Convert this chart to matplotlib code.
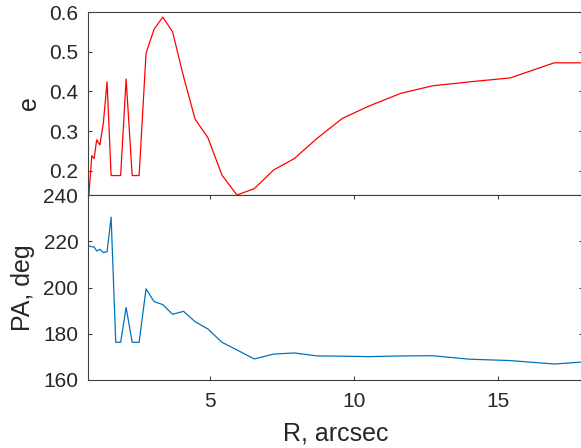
import matplotlib
matplotlib.use("Agg")
import matplotlib.pyplot as plt

# radius grid, arcsec
R = [0.79, 0.82, 0.92, 1.00, 1.09, 1.20, 1.32, 1.45, 1.59, 1.75, 1.92, 2.11,
     2.32, 2.56, 2.80, 3.08, 3.38, 3.72, 4.10, 4.50, 4.94, 5.43, 5.95, 6.55,
     7.22, 7.94, 8.73, 9.60, 10.52, 11.62, 12.72, 14.00, 15.42, 16.94, 17.94]

# ellipticity
e = [0.152, 0.139, 0.238, 0.231, 0.278, 0.265, 0.320, 0.424, 0.188, 0.188,
     0.188, 0.431, 0.188, 0.188, 0.496, 0.557, 0.587, 0.550, 0.437, 0.330,
     0.284, 0.189, 0.139, 0.155, 0.202, 0.231, 0.282, 0.332, 0.363, 0.395,
     0.414, 0.424, 0.434, 0.472, 0.472]

# position angle, deg
pa = [218.4, 218.0, 217.6, 217.6, 215.8, 216.5, 215.1, 215.5, 230.4, 176.3,
      176.3, 191.4, 176.3, 176.3, 199.4, 193.9, 192.6, 188.4, 189.7, 185.2,
      182.1, 176.3, 173.0, 169.1, 171.2, 171.7, 170.4, 170.3, 170.1, 170.4,
      170.5, 169.0, 168.4, 166.9, 167.8]

e_ticks = [0.2, 0.3, 0.4, 0.5, 0.6]
pa_ticks = [160, 180, 200, 220, 240]
r_ticks = [5, 10, 15]

plt.rcParams["font.family"] = ["Liberation Sans", "DejaVu Sans"]
AX_COLOR = "#404040"
TXT_COLOR = "#262626"

fig = plt.figure(figsize=(5.81, 4.48), dpi=100)
ax1 = fig.add_axes([0.1515, 0.5647, 0.852, 0.4085])
ax2 = fig.add_axes([0.1515, 0.1518, 0.852, 0.4129])

ax1.plot(R, e, color="#ff0000", lw=0.9)
ax2.plot(R, pa, color="#0072bd", lw=0.9)

for ax in (ax1, ax2):
    ax.set_xlim(min(R), max(R))
    for s in ax.spines.values():
        s.set_color(AX_COLOR)
        s.set_linewidth(0.8)
    ax.tick_params(direction="in", length=3.2, width=0.8, color=AX_COLOR,
                   labelsize=15, labelcolor=TXT_COLOR, right=True, top=True)
    ax.tick_params(axis="y", pad=7)

ax1.set_ylim(min(e), 0.6)
ax1.set_yticks(e_ticks)
ax1.set_yticklabels([f"{v:.1f}" for v in e_ticks])
ax1.tick_params(axis="x", bottom=False, top=False, labelbottom=False)
ax1.set_ylabel("e", fontsize=18, color=TXT_COLOR, labelpad=6)

ax2.set_ylim(160, 240)
ax2.set_yticks(pa_ticks)
ax2.set_xticks(r_ticks)
ax2.tick_params(axis="x", pad=9)
ax2.set_ylabel("PA, deg", fontsize=18, color=TXT_COLOR, labelpad=6)
ax2.set_xlabel("R, arcsec", fontsize=18, color=TXT_COLOR, labelpad=7)

fig.savefig("out.png", dpi=100, facecolor="white")
